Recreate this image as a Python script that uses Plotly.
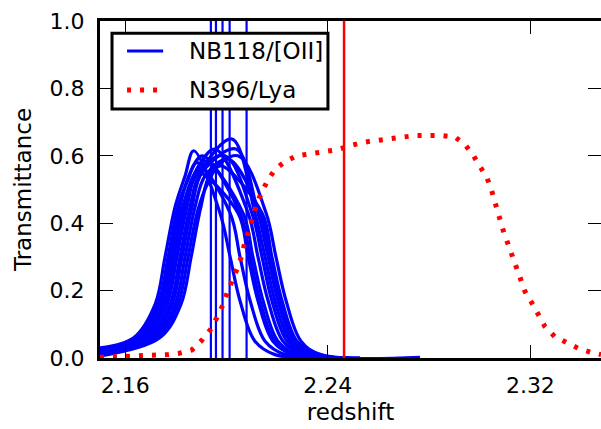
import plotly.graph_objects as go

# NB118 filter transmission curves converted to [OII] redshift (one per detector/position)
nb118_z = [
    [2.1500, 2.1633, 2.1718, 2.1757, 2.1797, 2.1836, 2.1870, 2.1974, 2.2014, 2.2053, 2.2112, 2.2191, 2.2330],
    [2.1500, 2.1645, 2.1729, 2.1769, 2.1808, 2.1848, 2.1882, 2.2014, 2.2053, 2.2093, 2.2152, 2.2231, 2.2369],
    [2.1500, 2.1653, 2.1737, 2.1777, 2.1816, 2.1856, 2.1905, 2.2053, 2.2093, 2.2132, 2.2191, 2.2270, 2.2409],
    [2.1500, 2.1661, 2.1745, 2.1785, 2.1824, 2.1864, 2.1888, 2.2045, 2.2085, 2.2124, 2.2183, 2.2262, 2.2409],
    [2.1500, 2.1673, 2.1757, 2.1797, 2.1836, 2.1876, 2.1954, 2.2085, 2.2124, 2.2164, 2.2223, 2.2302, 2.2448],
    [2.1500, 2.1681, 2.1765, 2.1804, 2.1844, 2.1883, 2.1994, 2.2100, 2.2140, 2.2179, 2.2239, 2.2318, 2.2448],
    [2.1500, 2.1693, 2.1777, 2.1816, 2.1856, 2.1895, 2.2021, 2.2112, 2.2152, 2.2191, 2.2251, 2.2330, 2.2488],
    [2.1500, 2.1700, 2.1785, 2.1824, 2.1864, 2.1903, 2.2037, 2.2124, 2.2164, 2.2203, 2.2262, 2.2341, 2.2488],
    [2.1500, 2.1712, 2.1797, 2.1836, 2.1876, 2.1915, 2.2006, 2.2132, 2.2172, 2.2211, 2.2270, 2.2349, 2.2527],
    [2.1500, 2.1724, 2.1808, 2.1848, 2.1887, 2.1927, 2.1974, 2.2140, 2.2179, 2.2219, 2.2278, 2.2357, 2.2527],
    [2.1500, 2.1736, 2.1820, 2.1860, 2.1899, 2.1939, 2.2045, 2.2156, 2.2195, 2.2235, 2.2294, 2.2373, 2.2764],
    [2.1500, 2.1665, 2.1749, 2.1789, 2.1828, 2.1868, 2.1915, 2.2065, 2.2104, 2.2144, 2.2203, 2.2282, 2.2428],
]
nb118_t = [
    [0.030, 0.06, 0.16, 0.30, 0.45, 0.54, 0.615, 0.43, 0.30, 0.17, 0.05, 0.01, 0.0],
    [0.026, 0.06, 0.16, 0.30, 0.45, 0.53, 0.580, 0.43, 0.30, 0.17, 0.05, 0.01, 0.0],
    [0.022, 0.06, 0.16, 0.30, 0.45, 0.55, 0.600, 0.43, 0.30, 0.17, 0.05, 0.01, 0.0],
    [0.020, 0.06, 0.16, 0.30, 0.44, 0.52, 0.550, 0.43, 0.30, 0.17, 0.05, 0.01, 0.0],
    [0.018, 0.06, 0.16, 0.30, 0.45, 0.55, 0.620, 0.43, 0.30, 0.17, 0.05, 0.01, 0.0],
    [0.015, 0.06, 0.16, 0.30, 0.45, 0.55, 0.600, 0.43, 0.30, 0.17, 0.05, 0.01, 0.0],
    [0.012, 0.06, 0.16, 0.30, 0.45, 0.55, 0.650, 0.43, 0.30, 0.17, 0.05, 0.01, 0.0],
    [0.010, 0.06, 0.16, 0.30, 0.45, 0.55, 0.620, 0.43, 0.30, 0.17, 0.05, 0.01, 0.0],
    [0.009, 0.06, 0.16, 0.30, 0.45, 0.54, 0.590, 0.43, 0.30, 0.17, 0.05, 0.01, 0.0],
    [0.008, 0.06, 0.16, 0.30, 0.44, 0.52, 0.570, 0.43, 0.30, 0.17, 0.05, 0.01, 0.0],
    [0.006, 0.06, 0.16, 0.30, 0.45, 0.55, 0.600, 0.43, 0.30, 0.17, 0.05, 0.01, 0.002],
    [0.020, 0.06, 0.16, 0.30, 0.45, 0.54, 0.585, 0.43, 0.30, 0.17, 0.05, 0.01, 0.0],
]

# N396 filter transmission converted to Lya redshift
n396_z = [2.1500, 2.1619, 2.1705, 2.1765, 2.1812, 2.1863, 2.1903, 2.1935, 2.1962, 2.1986,
          2.2002, 2.2025, 2.2045, 2.2061, 2.2073, 2.2089, 2.2104, 2.2120, 2.2140, 2.2164,
          2.2191, 2.2231, 2.2278, 2.2330, 2.2381, 2.2436, 2.2488, 2.2539, 2.2586, 2.2638,
          2.2693, 2.2744, 2.2796, 2.2851, 2.2902, 2.2942, 2.2973, 2.3001, 2.3029, 2.3048,
          2.3060, 2.3076, 2.3092, 2.3108, 2.3127, 2.3147, 2.3159, 2.3179, 2.3206, 2.3230,
          2.3258, 2.3297, 2.3345, 2.3388, 2.3443, 2.3479]
n396_t = [0.002, 0.004, 0.009, 0.010, 0.014, 0.024, 0.053, 0.083, 0.120, 0.158,
          0.193, 0.232, 0.271, 0.306, 0.346, 0.380, 0.420, 0.460, 0.494, 0.529,
          0.559, 0.583, 0.600, 0.605, 0.610, 0.618, 0.630, 0.640, 0.645, 0.650,
          0.658, 0.660, 0.660, 0.660, 0.656, 0.633, 0.603, 0.569, 0.534, 0.494,
          0.460, 0.420, 0.380, 0.346, 0.306, 0.271, 0.237, 0.197, 0.163, 0.128,
          0.093, 0.063, 0.044, 0.029, 0.016, 0.010]

# Redshift markers
oii_lines = [2.1938, 2.1958, 2.1984, 2.2012, 2.2079]
lya_lines = [2.2464]

legend_labels = ["NB118/[OII]", "N396/Lya"]

x_ticks = [2.16, 2.24, 2.32]
y_ticks = [0.0, 0.2, 0.4, 0.6, 0.8, 1.0]
x_range = [2.15, 2.3479]
y_range = [0.0, 1.0]

BLUE = "#0000ff"
RED = "#ff0000"
FONT = "DejaVu Sans"
RED_DASH = "4px,9px"

fig = go.Figure()

for zs, ts in zip(nb118_z, nb118_t):
    fig.add_trace(go.Scatter(
        x=zs, y=ts, mode="lines", line=dict(color=BLUE, width=3.2, shape="spline"),
        name=legend_labels[0], showlegend=False, hoverinfo="skip",
    ))

for z in oii_lines:
    fig.add_trace(go.Scatter(
        x=[z, z], y=y_range, mode="lines", line=dict(color=BLUE, width=2.2),
        showlegend=False, hoverinfo="skip",
    ))

fig.add_trace(go.Scatter(
    x=n396_z, y=n396_t, mode="lines", line=dict(color=RED, width=5, dash=RED_DASH),
    name=legend_labels[1], showlegend=False, hoverinfo="skip",
))

for z in lya_lines:
    fig.add_trace(go.Scatter(
        x=[z, z], y=y_range, mode="lines", line=dict(color=RED, width=2.5),
        showlegend=False, hoverinfo="skip",
    ))

# Invisible trace carrying the right-hand tick marks
fig.add_trace(go.Scatter(x=[x_range[0]], y=[0], yaxis="y2", mode="markers",
                         marker=dict(opacity=0), showlegend=False, hoverinfo="skip"))

# Legend box drawn in paper coordinates, on top of the data
box = dict(x0=0.024, x1=0.455, y0=0.739, y1=0.964)
fig.add_shape(type="rect", xref="paper", yref="paper", layer="above",
              fillcolor="white", line=dict(color="black", width=3), **box)
rows_y = [0.911, 0.795]
sample_x = [0.054, 0.126]
fig.add_shape(type="line", xref="paper", yref="paper", layer="above",
              x0=sample_x[0], x1=sample_x[1], y0=rows_y[0], y1=rows_y[0],
              line=dict(color=BLUE, width=3))
fig.add_shape(type="line", xref="paper", yref="paper", layer="above",
              x0=sample_x[0], x1=sample_x[1], y0=rows_y[1], y1=rows_y[1],
              line=dict(color=RED, width=5, dash=RED_DASH))
for label, yy in zip(legend_labels, rows_y):
    fig.add_annotation(text=label, xref="paper", yref="paper", x=0.173, y=yy,
                       xanchor="left", yanchor="middle", showarrow=False,
                       font=dict(size=23, family=FONT, color="black"))

fig.update_layout(
    width=601, height=429,
    margin=dict(l=100, r=0, t=21, b=71),
    paper_bgcolor="white", plot_bgcolor="white",
    font=dict(family=FONT, size=22, color="black"),
    showlegend=False,
    xaxis=dict(
        range=x_range, tickvals=x_ticks, ticktext=[f"{v:.2f}" for v in x_ticks],
        ticks="inside", ticklen=13, tickwidth=1.2, tickcolor="black",
        showline=True, linewidth=3, linecolor="black", mirror="ticks",
        showgrid=False, zeroline=False, ticklabelstandoff=6,
        title=dict(text="redshift", standoff=7, font=dict(size=23)),
    ),
    yaxis=dict(
        range=y_range, tickvals=y_ticks, ticktext=[f"{v:.1f}" for v in y_ticks],
        ticks="inside", ticklen=13, tickwidth=1.2, tickcolor="black",
        showline=True, linewidth=3, linecolor="black", mirror=False,
        showgrid=False, zeroline=False, ticklabelstandoff=8,
        title=dict(text="Transmittance", standoff=12, font=dict(size=23)),
    ),
    yaxis2=dict(
        range=y_range, tickvals=y_ticks, overlaying="y", side="right", anchor="x",
        ticks="inside", ticklen=13, tickwidth=1.2, tickcolor="black",
        showticklabels=False, showline=False, showgrid=False, zeroline=False,
    ),
)

fig.write_html("out.html")
